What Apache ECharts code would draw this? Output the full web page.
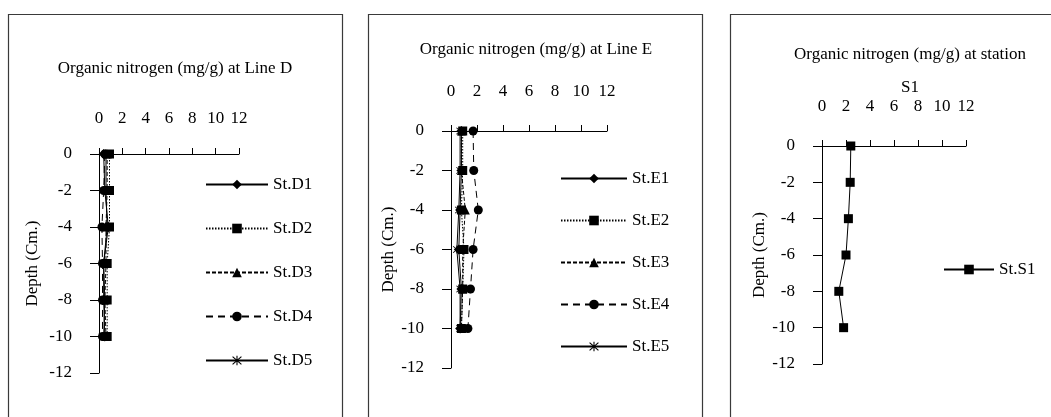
<!DOCTYPE html>
<html>
<head>
<meta charset="utf-8">
<script src="https://cdn.jsdelivr.net/npm/echarts@6/dist/echarts.min.js"></script>
<style>
  html, body { margin: 0; padding: 0; background: #fff; }
  #chart { width: 1051px; height: 417px; }
</style>
</head>
<body>
<div id="chart"></div>
<script>
// Sampling depths (cm) shared by every station profile
const depths = [0, -2, -4, -6, -8, -10];

// Organic nitrogen (mg/g) along Line D
const lineDNames = ['St.D1', 'St.D2', 'St.D3', 'St.D4', 'St.D5'];
const stD1 = [0.4, 0.5, 0.8, 0.4, 0.4, 0.5];
const stD2 = [0.9, 0.9, 0.9, 0.7, 0.7, 0.7];
const stD3 = [0.7, 0.7, 0.6, 0.6, 0.5, 0.6];
const stD4 = [0.5, 0.4, 0.25, 0.3, 0.3, 0.3];
const stD5 = [0.6, 0.6, 0.7, 0.4, 0.5, 0.4];

// Organic nitrogen (mg/g) along Line E
const lineENames = ['St.E1', 'St.E2', 'St.E3', 'St.E4', 'St.E5'];
const stE1 = [0.8, 0.8, 0.7, 0.6, 0.8, 0.7];
const stE2 = [0.9, 0.9, 0.8, 1.0, 0.9, 0.8];
const stE3 = [0.8, 0.8, 1.1, 0.9, 0.9, 0.8];
const stE4 = [1.7, 1.75, 2.1, 1.7, 1.5, 1.3];
const stE5 = [0.7, 0.7, 0.6, 0.45, 0.7, 0.7];

// Organic nitrogen (mg/g) at station S1
const stationNames = ['St.S1'];
const stS1 = [2.4, 2.35, 2.2, 2.0, 1.4, 1.8];

// Axis ranges / tick steps
const xMin = 0, xMax = 12, xStep = 2;
const yMin = -12, yMax = 0, yStep = 2;

const FONT = 'Liberation Serif';
const INK = '#000';

// asterisk marker
const STAR = 'path://M4.5,0L5.5,0L5.5,10L4.5,10Z M0.6,1.3L1.3,0.6L9.4,8.7L8.7,9.4Z M8.7,0.6L9.4,1.3L1.3,9.4L0.6,8.7Z';

// marker + dash pattern for the five station styles
const styles = [
  { symbol: 'diamond', size: 10, type: 'solid' },
  { symbol: 'rect', size: 9, type: [1.5, 1.5] },
  { symbol: 'triangle', size: 9, type: [4, 2] },
  { symbol: 'circle', size: 9, type: [7, 5] },
  { symbol: STAR, size: 8, type: 'solid' }
];

function profile(name, values, gridIndex, st) {
  return {
    name: name,
    type: 'line',
    xAxisIndex: gridIndex,
    yAxisIndex: gridIndex,
    data: values.map((v, i) => [v, depths[i]]),
    symbol: st.symbol,
    symbolSize: st.size,
    showSymbol: true,
    lineStyle: { color: INK, width: 1, type: st.type },
    itemStyle: { color: INK },
    emphasis: { disabled: true },
    animation: false
  };
}

const grids = [
  { left: 99, top: 154, width: 140, height: 219 },
  { left: 451, top: 131, width: 156, height: 237 },
  { left: 822, top: 146, width: 144, height: 218 }
];
const xLabelMargins = [27, 31, 31];
const yNameGaps = [58, 52, 54];

function xAxis(i) {
  return {
    gridIndex: i, type: 'value', position: 'top',
    min: xMin, max: xMax, interval: xStep,
    splitLine: { show: false },
    axisLine: { show: true, onZero: false, lineStyle: { color: INK, width: 1 } },
    axisTick: { show: true, inside: false, length: 6, lineStyle: { color: INK } },
    axisLabel: { color: INK, fontFamily: FONT, fontSize: 17, margin: xLabelMargins[i], showMinLabel: true, showMaxLabel: true }
  };
}
function yAxis(i) {
  return {
    gridIndex: i, type: 'value',
    min: yMin, max: yMax, interval: yStep,
    name: 'Depth (Cm.)', nameLocation: 'middle', nameRotate: 90, nameGap: yNameGaps[i],
    nameTextStyle: { color: INK, fontFamily: FONT, fontSize: 17 },
    splitLine: { show: false },
    axisLine: { show: true, onZero: false, lineStyle: { color: INK, width: 1 } },
    axisTick: { show: true, inside: false, length: 9, lineStyle: { color: INK } },
    axisLabel: { color: INK, fontFamily: FONT, fontSize: 17, margin: 27 }
  };
}

function legend(names, left, top, gap, itemWidth) {
  return {
    data: names, orient: 'vertical', left: left, top: top,
    itemWidth: itemWidth, itemHeight: 12, itemGap: gap,
    selectedMode: false, padding: 0,
    textStyle: { color: INK, fontFamily: FONT, fontSize: 17, lineHeight: 12 }
  };
}

const titleStyle = { color: INK, fontFamily: FONT, fontSize: 17, fontWeight: 'normal' };

const series = [];
[stD1, stD2, stD3, stD4, stD5].forEach((v, k) => series.push(profile(lineDNames[k], v, 0, styles[k])));
[stE1, stE2, stE3, stE4, stE5].forEach((v, k) => series.push(profile(lineENames[k], v, 1, styles[k])));
series.push(profile(stationNames[0], stS1, 2, styles[1]));
series[series.length - 1].lineStyle.type = 'solid';

const chart = echarts.init(document.getElementById('chart'), null, { renderer: 'canvas' });
chart.setOption({
  animation: false,
  backgroundColor: '#fff',
  title: [
    { text: 'Organic nitrogen (mg/g) at Line D', left: 175, top: 60, textAlign: 'center', padding: 0, textStyle: titleStyle },
    { text: 'Organic nitrogen (mg/g) at Line E', left: 536, top: 41, textAlign: 'center', padding: 0, textStyle: titleStyle },
    { text: 'Organic nitrogen (mg/g) at station\nS1', left: 910, top: 38, textAlign: 'center', padding: 0,
      textStyle: Object.assign({ lineHeight: 33 }, titleStyle) }
  ],
  legend: [
    legend(lineDNames, 205, 176, 27, 62),
    legend(lineENames, 560, 170, 25, 66),
    legend(stationNames, 943, 261, 10, 50)
  ],
  grid: grids,
  xAxis: [xAxis(0), xAxis(1), xAxis(2)],
  yAxis: [yAxis(0), yAxis(1), yAxis(2)],
  series: series,
  graphic: [
    { type: 'rect', silent: true, z: -10, shape: { x: 8.5, y: 14.5, width: 334, height: 420 }, style: { fill: 'none', stroke: '#3a3a3a', lineWidth: 1.2 } },
    { type: 'rect', silent: true, z: -10, shape: { x: 368.5, y: 14.5, width: 334, height: 420 }, style: { fill: 'none', stroke: '#3a3a3a', lineWidth: 1.2 } },
    { type: 'rect', silent: true, z: -10, shape: { x: 730.5, y: 14.5, width: 340, height: 420 }, style: { fill: 'none', stroke: '#3a3a3a', lineWidth: 1.2 } }
  ]
});
</script>
</body>
</html>
